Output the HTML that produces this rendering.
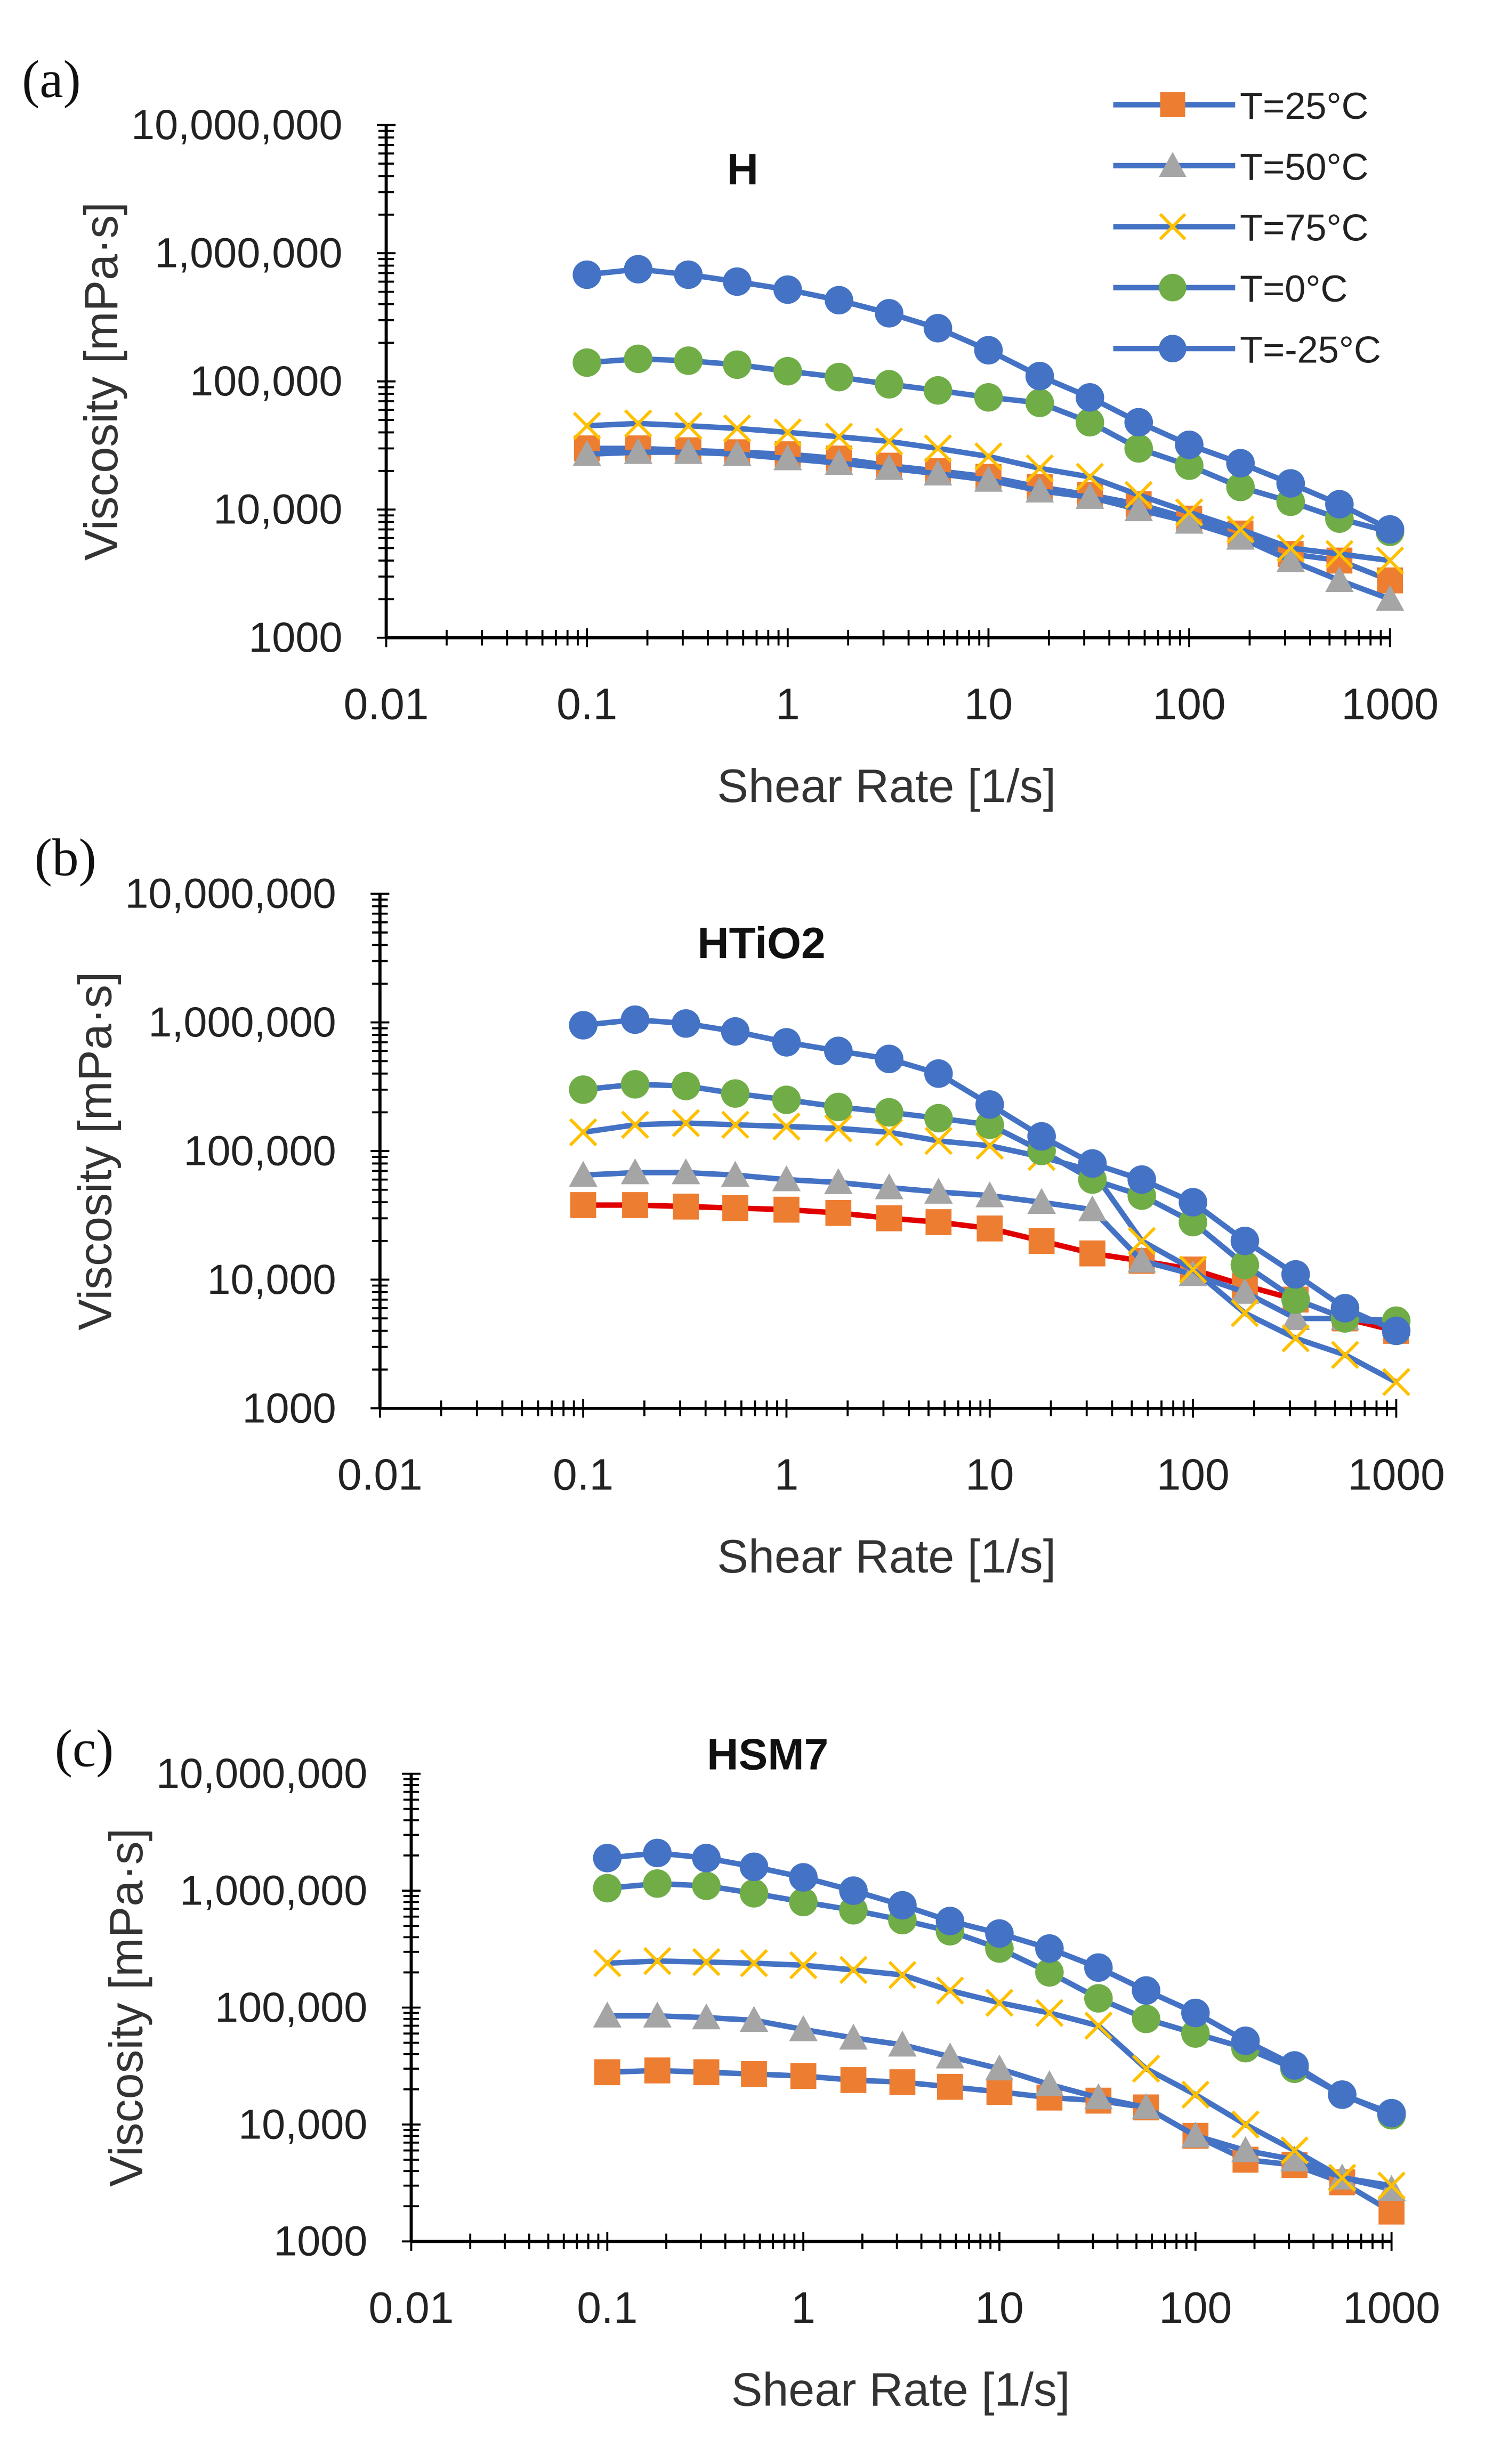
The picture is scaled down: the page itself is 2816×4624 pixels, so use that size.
<!DOCTYPE html>
<html><head><meta charset="utf-8"><style>
html,body{margin:0;padding:0;background:#fff;}
svg{display:block;font-family:"Liberation Sans","DejaVu Sans",sans-serif;}
</style></head><body>
<svg id="fig" width="2816" height="4624" viewBox="0 0 960 1576.4" xmlns="http://www.w3.org/2000/svg"></svg>
<script>
const shearRates=[0.1,0.18,0.32,0.56,1,1.8,3.2,5.6,10,18,32,56,100,180,320,560,1000];
const seriesNames=["T=25°C","T=50°C","T=75°C","T=0°C","T=-25°C"];
const xTickLabels=["0.01","0.1","1","10","100","1000"];
const yTickLabels=["1000","10,000","100,000","1,000,000","10,000,000"];
// panel a (H)
const aT25=[30e3,30e3,29e3,28e3,27e3,25e3,22e3,20e3,18e3,15e3,13e3,11e3,8.5e3,6.5e3,4.5e3,4e3,2.8e3];
const aT50=[27e3,28e3,28e3,27e3,25e3,23e3,21e3,19e3,17e3,14e3,12.5e3,10e3,8e3,6e3,4e3,2.8e3,2e3];
const aT75=[45e3,47e3,45e3,43e3,40e3,37e3,34e3,30e3,26e3,21e3,18e3,13e3,9.5e3,7e3,5e3,4.5e3,4e3];
const aT0=[140e3,150e3,145e3,135e3,120e3,108e3,95e3,85e3,75e3,68e3,48e3,30e3,22e3,15e3,11.5e3,8.5e3,6.7e3];
const aTm25=[680e3,750e3,680e3,600e3,520e3,430e3,340e3,260e3,175e3,110e3,75e3,48e3,32e3,23e3,16e3,11e3,7e3];
// panel b (HTiO2)
const bT25=[38e3,38e3,37e3,36e3,35e3,33e3,30e3,28e3,25e3,20e3,16e3,14e3,12e3,9e3,7e3,5e3,4e3];
const bT50=[65e3,68e3,68e3,65e3,60e3,57e3,52e3,48e3,45e3,40e3,35e3,14e3,11e3,8e3,5e3,5e3,4.5e3];
const bT75=[140e3,160e3,165e3,160e3,155e3,150e3,140e3,120e3,110e3,90e3,70e3,20e3,12e3,5.5e3,3.5e3,2.6e3,1.6e3];
const bT0=[300e3,330e3,320e3,280e3,250e3,220e3,200e3,180e3,160e3,100e3,60e3,45e3,28e3,13e3,7e3,5e3,4.8e3];
const bTm25=[950e3,1.05e6,980e3,850e3,700e3,600e3,520e3,400e3,230e3,130e3,80e3,60e3,40e3,20e3,11e3,6e3,4e3];
// panel c (HSM7)
const cT25=[28e3,29e3,28e3,27e3,26e3,24e3,23e3,21e3,19e3,17e3,16e3,14e3,8e3,5e3,4.5e3,3.2e3,1.8e3];
const cT50=[85e3,85e3,82e3,78e3,65e3,55e3,48e3,38e3,30e3,22e3,17e3,14e3,8e3,6e3,5e3,3.5e3,2.8e3];
const cT75=[240e3,250e3,245e3,240e3,230e3,210e3,190e3,140e3,110e3,90e3,70e3,30e3,18e3,10e3,6e3,3.5e3,3e3];
const cT0=[1.05e6,1.15e6,1.1e6,950e3,800e3,680e3,560e3,450e3,320e3,200e3,120e3,80e3,60e3,45e3,30e3,18e3,12e3];
const cTm25=[1.9e6,2.1e6,1.9e6,1.6e6,1.3e6,1.0e6,750e3,550e3,430e3,320e3,220e3,140e3,90e3,52e3,32e3,18e3,12.5e3];

const NS="http://www.w3.org/2000/svg";
const svg=document.getElementById('fig');
function mk(tag,attrs,parent){const e=document.createElementNS(NS,tag);for(const k in attrs)e.setAttribute(k,attrs[k]);(parent||svg).appendChild(e);return e;}
const BLUE="#4472C4",COLORS=["#ED7D31","#A5A5A5","#FFC000","#70AD47","#4472C4"],MARK=["square","triangle","x","circle","circle"];

function marker(g,type,cx,cy,color,r){
  let m;
  if(type==="square")m=mk('rect',{x:cx-r,y:cy-r,width:2*r,height:2*r,fill:color},g);
  else if(type==="triangle")m=mk('polygon',{points:`${cx},${cy-r*1.1} ${cx-r*1.1},${cy+r*0.9} ${cx+r*1.1},${cy+r*0.9}`,fill:color},g);
  else if(type==="x"){m=mk('path',{d:`M${cx-r},${cy-r}L${cx+r},${cy+r}M${cx-r},${cy+r}L${cx+r},${cy-r}`,stroke:color,'stroke-width':2,fill:'none'},g);}
  else m=mk('circle',{cx:cx,cy:cy,r:r*1.1,fill:color},g);
  return m;
}

function panel(p){
  const g=mk('g',{});
  
  
  const xs=v=>p.x0+p.dx*(Math.log10(v)+2);
  const ys=v=>p.y0-p.dy*(Math.log10(v)-3);
  const xEnd=xs(1000), yTop=ys(1e7);
  const ax=mk('line',{x1:p.x0,y1:p.y0,x2:xEnd,y2:p.y0,stroke:'#000','stroke-width':2},g);
  
  const ay=mk('line',{x1:p.x0,y1:p.y0,x2:p.x0,y2:yTop,stroke:'#000','stroke-width':2},g);
  
  for(let d=-2;d<=3;d++){
    for(let k=1;k<=9;k++){
      const v=k*Math.pow(10,d); if(v>1000)break;
      const x=xs(v);
      mk('line',{x1:x,y1:p.y0-(k===1?6:5),x2:x,y2:p.y0+(k===1?6:5),stroke:'#000','stroke-width':1.3},g);
    }
    const t=mk('text',{x:xs(Math.pow(10,d)),y:p.y0+52,'font-size':28,'text-anchor':'middle',fill:'#222'},g);
    t.textContent=xTickLabels[d+2];
    
  }
  for(let d=3;d<=7;d++){
    for(let k=1;k<=9;k++){
      const v=k*Math.pow(10,d); if(v>1e7)break;
      const y=ys(v);
      mk('line',{x1:p.x0-(k===1?6:5),y1:y,x2:p.x0+(k===1?6:5),y2:y,stroke:'#000','stroke-width':1.3},g);
    }
    const t=mk('text',{x:p.x0-28,y:ys(Math.pow(10,d))+9,'font-size':27,'text-anchor':'end',fill:'#222'},g);
    t.textContent=yTickLabels[d-3];
    
  }
  const yt=mk('text',{x:0,y:0,'font-size':30,'text-anchor':'middle',fill:'#333',transform:`translate(${p.x0-172},${(p.y0+yTop)/2}) rotate(-90)`},g);
  yt.textContent="Viscosity [mPa·s]";
  const xt=mk('text',{x:p.xtc,y:p.y0+105,'font-size':30,'text-anchor':'middle',fill:'#333','xml:space':'preserve'},g);
  xt.textContent="Shear Rate  [1/s]";
  const tt=mk('text',{x:p.tx,y:p.ty,'font-size':28,'font-weight':'bold','text-anchor':'middle',fill:'#111'},g);
  tt.textContent=p.title;
  const lt=mk('text',{x:p.lx,y:p.ly,'font-size':34,fill:'#111','font-family':'Liberation Serif, serif'},g);
  lt.textContent=p.label;
  p.series.forEach((vals,i)=>{
    const sg=mk('g',{},g);
    
    
    const lineColor=(p.redFirst&&i===0)?"#E00000":BLUE;
    const pts=vals.map((v,j)=>xs(shearRates[j]).toFixed(1)+","+ys(v).toFixed(1)).join(" ");
    const pl=mk('polyline',{points:pts,fill:'none',stroke:lineColor,'stroke-width':3.5},sg);
    
    vals.forEach((v,j)=>{
      const m=marker(sg,MARK[i],xs(shearRates[j]),ys(v),COLORS[i],8.3);
      
      
    });
  });
}
panel({name:'panel-a-h',x0:247,y0:408,dx:128.4,dy:82,title:'H',tx:475,ty:118,label:'(a)',lx:14,ly:62,xtc:567,
  series:[aT25,aT50,aT75,aT0,aTm25]});
panel({name:'panel-b-htio2',x0:243,y0:901,dx:130,dy:82.3,title:'HTiO2',tx:487,ty:613,label:'(b)',lx:22,ly:560,redFirst:true,xtc:567,
  series:[bT25,bT50,bT75,bT0,bTm25]});
panel({name:'panel-c-hsm7',x0:263,y0:1434,dx:125.4,dy:74.8,title:'HSM7',tx:491,ty:1132,label:'(c)',lx:35,ly:1130,xtc:576,
  series:[cT25,cT50,cT75,cT0,cTm25]});
const lg=mk('g',{});


seriesNames.forEach((n,i)=>{
  const y=67+39*i;
  const e=mk('g',{},lg);
  
  
  mk('line',{x1:712,y1:y,x2:790,y2:y,stroke:BLUE,'stroke-width':3.5},e);
  marker(e,MARK[i],750,y,COLORS[i],8);
  const t=mk('text',{x:793,y:y+9,'font-size':24,fill:'#222'},e);
  t.textContent=n;
});
</script>
</body></html>
